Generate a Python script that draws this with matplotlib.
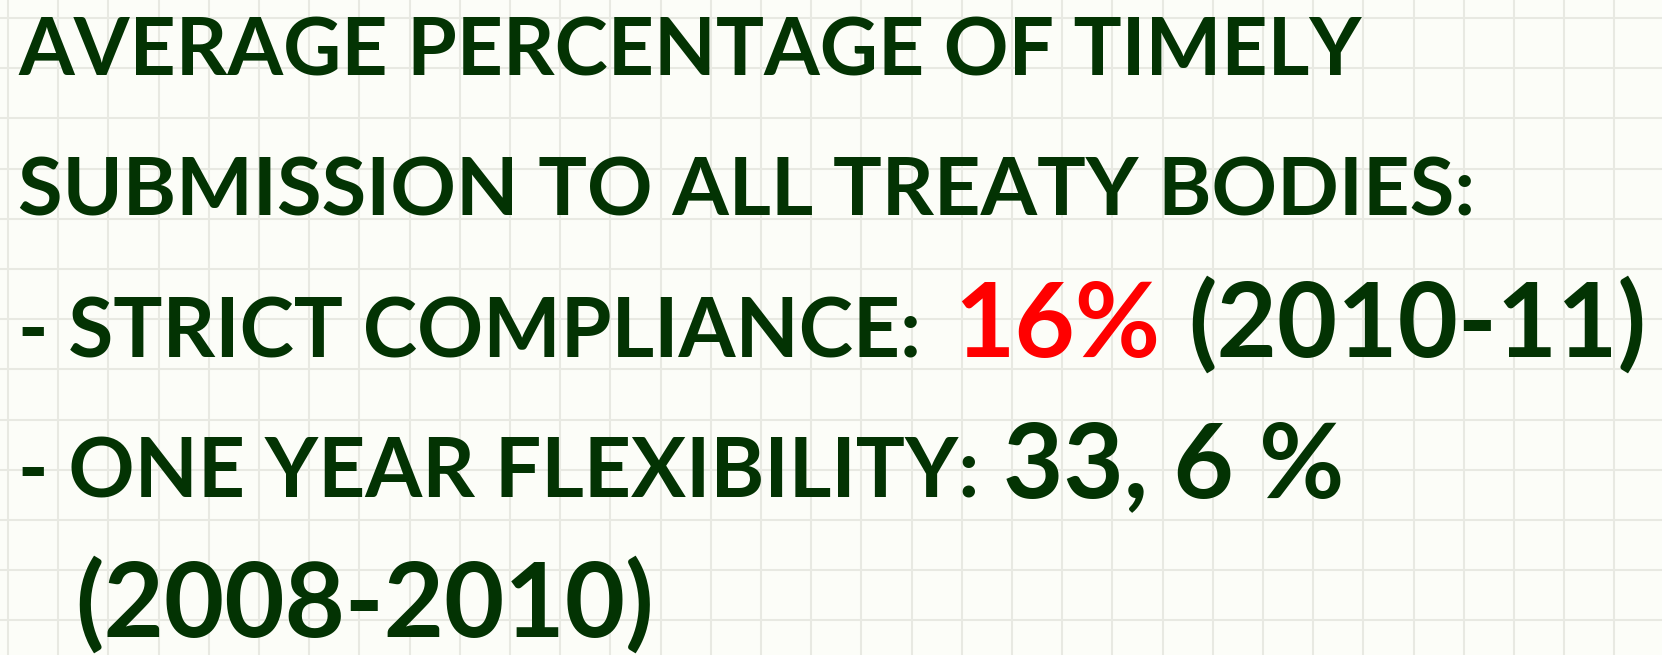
import numpy as np
import matplotlib.pyplot as plt

# slide text, kept as data
title_lines = ["AVERAGE PERCENTAGE OF TIMELY", "SUBMISSION TO ALL TREATY BODIES:"]
strict_label = "- STRICT COMPLIANCE:"
strict_value = "16%"
strict_years = "(2010-11)"
flex_label = "- ONE YEAR FLEXIBILITY:"
flex_value = "33, 6 %"
flex_years = "(2008-2010)"

W, H = 1662, 655
BG = "#fcfdf8"
GRID = "#e8e9e2"
GREEN = "#033303"
RED = "#ff0000"
FONT = "Lato"

SMALL = 59
BIG = 75

fig = plt.figure(figsize=(W / 100, H / 100), dpi=100)
fig.patch.set_facecolor(BG)
ax = fig.add_axes([0, 0, 1, 1])
ax.set_xlim(0, W)
ax.set_ylim(H, 0)
ax.set_facecolor(BG)
ax.axis("off")

# graph-paper background
for x in np.arange(8, W, 50.2):
    ax.axvline(x, color=GRID, lw=1.5, zorder=0)
for y in np.arange(18, H, 50.2):
    ax.axhline(y, color=GRID, lw=1.5, zorder=0)


def put(x, y, s, size, color=GREEN):
    ax.text(x, y, s, fontsize=size, color=color, fontfamily=FONT,
            fontweight="bold", ha="left", va="baseline", zorder=2)


put(18, 75, title_lines[0], SMALL - 1.2)
put(18, 215, title_lines[1], SMALL - 0.5)

put(18, 357, strict_label, SMALL)
put(954, 357, strict_value, BIG, RED)
put(1188, 357, strict_years, BIG)

put(18, 497, flex_label, SMALL)
put(1003, 497, flex_value, BIG)

put(75, 637, flex_years, BIG)

fig.savefig("out.png", dpi=100, facecolor=BG)
